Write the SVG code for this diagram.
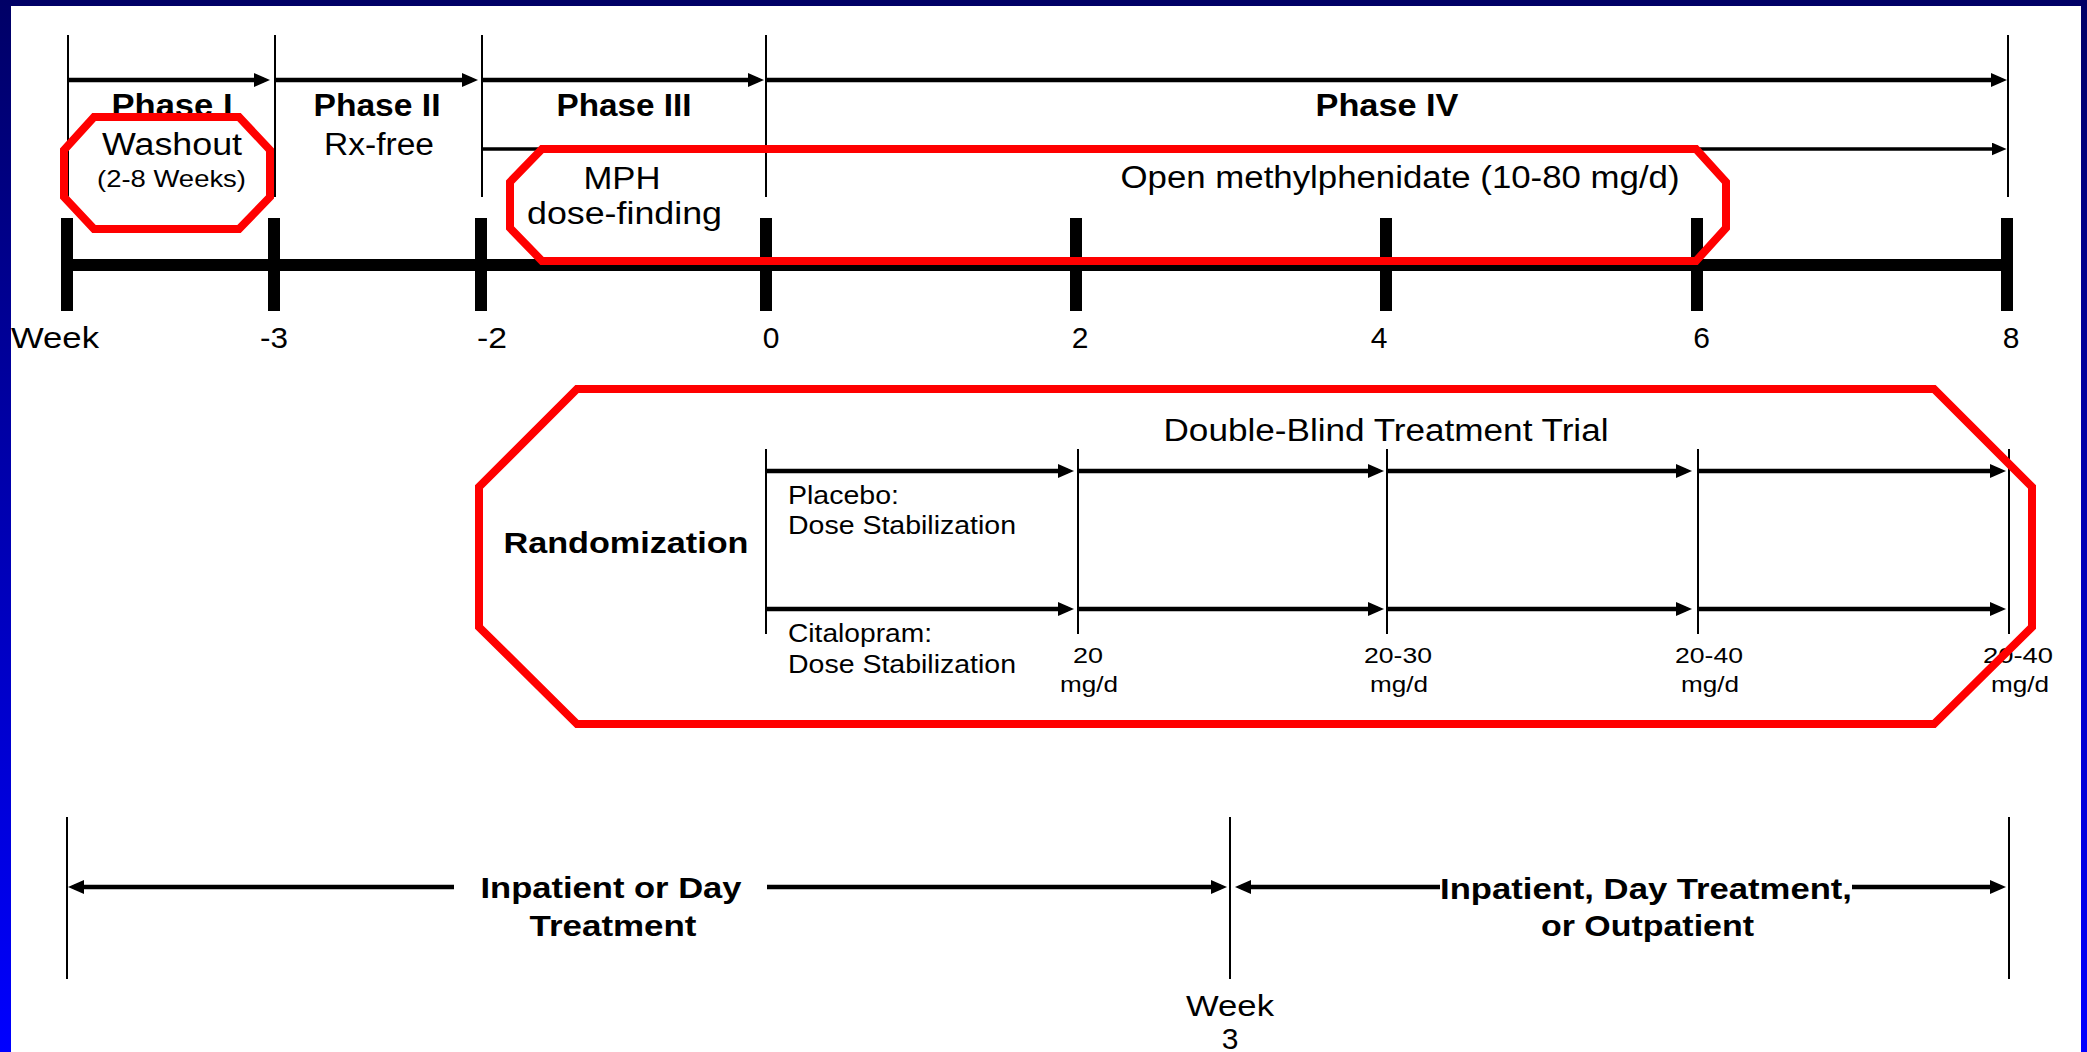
<svg xmlns="http://www.w3.org/2000/svg" width="2087" height="1052" viewBox="0 0 2087 1052">
<defs>
<linearGradient id="bg" x1="0" y1="0" x2="0" y2="1">
<stop offset="0" stop-color="#000066"/>
<stop offset="1" stop-color="#0000ff"/>
</linearGradient>
<marker id="ah" viewBox="0 0 16 14" refX="10" refY="7" markerWidth="16" markerHeight="14" markerUnits="userSpaceOnUse" orient="auto-start-reverse">
<path d="M0,0 L16,7 L0,14 z" fill="#000"/>
</marker>
<marker id="ahs" viewBox="0 0 16 14" refX="10" refY="7" markerWidth="15" markerHeight="13" markerUnits="userSpaceOnUse" orient="auto-start-reverse">
<path d="M0,0 L16,7 L0,14 z" fill="#000"/>
</marker>
</defs>
<style>
.t{font-family:"Liberation Sans",Arial,sans-serif;fill:#000}
.b{font-weight:bold}
.m{text-anchor:middle}
.thin{stroke:#000;stroke-width:2;fill:none}
.arr{stroke:#000;stroke-width:4.5;fill:none;marker-end:url(#ah)}
.arrs{stroke:#000;stroke-width:3.5;fill:none;marker-end:url(#ahs)}
.oct{fill:none;stroke:#ff0000;stroke-width:8;stroke-linejoin:miter}
</style>
<rect x="0" y="0" width="2087" height="1052" fill="url(#bg)"/>
<rect x="11" y="6" width="2070" height="1046" fill="#fff"/>

<g id="connectors">
<!-- top phase boundaries -->
<line class="thin" x1="68" y1="35" x2="68" y2="197"/>
<line class="thin" x1="275" y1="35" x2="275" y2="197"/>
<line class="thin" x1="482" y1="35" x2="482" y2="197"/>
<line class="thin" x1="766" y1="35" x2="766" y2="197"/>
<line class="thin" x1="2008" y1="35" x2="2008" y2="197"/>
<line class="arr" x1="68" y1="80" x2="264" y2="80"/>
<line class="arr" x1="275" y1="80" x2="472" y2="80"/>
<line class="arr" x1="482" y1="80" x2="758" y2="80"/>
<line class="arr" x1="766" y1="80" x2="2001" y2="80"/>
<line class="arrs" x1="482" y1="149" x2="2001" y2="149"/>
<!-- timeline axis -->
<line x1="67" y1="265" x2="2007" y2="265" stroke="#000" stroke-width="12"/>
<g fill="#000">
<rect x="61" y="218" width="12" height="93"/>
<rect x="268" y="218" width="12" height="93"/>
<rect x="475" y="218" width="12" height="93"/>
<rect x="760" y="218" width="12" height="93"/>
<rect x="1070" y="218" width="12" height="93"/>
<rect x="1380" y="218" width="12" height="93"/>
<rect x="1691" y="218" width="12" height="93"/>
<rect x="2001" y="218" width="12" height="93"/>
</g>
<!-- double blind arms -->
<line class="thin" x1="766" y1="449" x2="766" y2="634"/>
<line class="thin" x1="1078" y1="449" x2="1078" y2="634"/>
<line class="thin" x1="1387" y1="449" x2="1387" y2="634"/>
<line class="thin" x1="1698" y1="449" x2="1698" y2="634"/>
<line class="thin" x1="2009" y1="449" x2="2009" y2="634"/>
<line class="arr" x1="766" y1="471" x2="1068" y2="471"/>
<line class="arr" x1="1078" y1="471" x2="1378" y2="471"/>
<line class="arr" x1="1387" y1="471" x2="1686" y2="471"/>
<line class="arr" x1="1698" y1="471" x2="2000" y2="471"/>
<line class="arr" x1="766" y1="609" x2="1068" y2="609"/>
<line class="arr" x1="1078" y1="609" x2="1378" y2="609"/>
<line class="arr" x1="1387" y1="609" x2="1686" y2="609"/>
<line class="arr" x1="1698" y1="609" x2="2000" y2="609"/>
<!-- bottom treatment setting -->
<line class="thin" x1="67" y1="817" x2="67" y2="979"/>
<line class="thin" x1="1230" y1="817" x2="1230" y2="979"/>
<line class="thin" x1="2009" y1="817" x2="2009" y2="979"/>
<line class="arr" x1="454" y1="887" x2="74" y2="887"/>
<line class="arr" x1="767" y1="887" x2="1221" y2="887"/>
<line class="arr" x1="1440" y1="887" x2="1241" y2="887"/>
<line class="arr" x1="1852" y1="887" x2="2000" y2="887"/>
</g>

<g id="phase-labels">
<text class="t b m" x="172" y="116" font-size="31" textLength="121" lengthAdjust="spacingAndGlyphs">Phase I</text>
<text class="t b m" x="377" y="116" font-size="31" textLength="127" lengthAdjust="spacingAndGlyphs">Phase II</text>
<text class="t b m" x="624" y="116" font-size="31" textLength="135" lengthAdjust="spacingAndGlyphs">Phase III</text>
<text class="t b m" x="1387" y="116" font-size="31" textLength="143" lengthAdjust="spacingAndGlyphs">Phase IV</text>
</g>

<g id="node-rxfree">
<text class="t m" x="379" y="155" font-size="31" textLength="110" lengthAdjust="spacingAndGlyphs">Rx-free</text>
</g>

<g id="node-washout">
<text class="t m" x="172" y="155" font-size="31" textLength="140" lengthAdjust="spacingAndGlyphs">Washout</text>
<text class="t m" x="171.5" y="187" font-size="24" textLength="149" lengthAdjust="spacingAndGlyphs">(2-8 Weeks)</text>
<polygon class="oct" points="94,117 239,117 270,150 270,197 239,229 94,229 64,197 64,150"/>
</g>

<g id="node-mph">
<text class="t m" x="622" y="189" font-size="31" textLength="77" lengthAdjust="spacingAndGlyphs">MPH</text>
<text class="t m" x="624.5" y="224" font-size="31" textLength="195" lengthAdjust="spacingAndGlyphs">dose-finding</text>
<text class="t m" x="1400" y="188" font-size="31" textLength="559" lengthAdjust="spacingAndGlyphs">Open methylphenidate (10-80 mg/d)</text>
<polygon class="oct" points="542,149 1696,149 1726,182 1726,228 1696,261 542,261 510,228 510,182"/>
</g>

<g id="week-labels">
<text class="t" x="11" y="348" font-size="30" textLength="88" lengthAdjust="spacingAndGlyphs">Week</text>
<text class="t m" x="274" y="348" font-size="30" textLength="28" lengthAdjust="spacingAndGlyphs">-3</text>
<text class="t m" x="492" y="348" font-size="30" textLength="30" lengthAdjust="spacingAndGlyphs">-2</text>
<text class="t m" x="771" y="348" font-size="30">0</text>
<text class="t m" x="1080" y="348" font-size="30">2</text>
<text class="t m" x="1379" y="348" font-size="30">4</text>
<text class="t m" x="1701.5" y="348" font-size="30">6</text>
<text class="t m" x="2011" y="348" font-size="30">8</text>
</g>

<g id="node-double-blind">
<text class="t m" x="1386" y="441" font-size="31" textLength="445" lengthAdjust="spacingAndGlyphs">Double-Blind Treatment Trial</text>
<text class="t b m" x="626" y="553" font-size="30" textLength="245" lengthAdjust="spacingAndGlyphs">Randomization</text>
<text class="t" x="788" y="504" font-size="25" textLength="111" lengthAdjust="spacingAndGlyphs">Placebo:</text>
<text class="t" x="788" y="534" font-size="25" textLength="228" lengthAdjust="spacingAndGlyphs">Dose Stabilization</text>
<text class="t" x="788" y="642" font-size="25" textLength="144" lengthAdjust="spacingAndGlyphs">Citalopram:</text>
<text class="t" x="788" y="673" font-size="25" textLength="228" lengthAdjust="spacingAndGlyphs">Dose Stabilization</text>
<text class="t m" x="1088" y="663" font-size="22" textLength="30" lengthAdjust="spacingAndGlyphs">20</text>
<text class="t m" x="1089" y="692" font-size="22" textLength="58" lengthAdjust="spacingAndGlyphs">mg/d</text>
<text class="t m" x="1398" y="663" font-size="22" textLength="68" lengthAdjust="spacingAndGlyphs">20-30</text>
<text class="t m" x="1399" y="692" font-size="22" textLength="58" lengthAdjust="spacingAndGlyphs">mg/d</text>
<text class="t m" x="1709" y="663" font-size="22" textLength="68" lengthAdjust="spacingAndGlyphs">20-40</text>
<text class="t m" x="1710" y="692" font-size="22" textLength="58" lengthAdjust="spacingAndGlyphs">mg/d</text>
<text class="t m" x="2018" y="663" font-size="22" textLength="70" lengthAdjust="spacingAndGlyphs">20-40</text>
<text class="t m" x="2020" y="692" font-size="22" textLength="58" lengthAdjust="spacingAndGlyphs">mg/d</text>
<polygon class="oct" points="577,389 1934,389 2032,487 2032,627 1934,724 577,724 479,627 479,487"/>
</g>

<g id="node-inpatient">
<text class="t b m" x="611" y="898" font-size="30" textLength="261" lengthAdjust="spacingAndGlyphs">Inpatient or Day</text>
<text class="t b m" x="613" y="936" font-size="30" textLength="167" lengthAdjust="spacingAndGlyphs">Treatment</text>
</g>

<g id="node-outpatient">
<text class="t b m" x="1646" y="899" font-size="30" textLength="412" lengthAdjust="spacingAndGlyphs">Inpatient, Day Treatment,</text>
<text class="t b m" x="1647.5" y="936" font-size="30" textLength="213" lengthAdjust="spacingAndGlyphs">or Outpatient</text>
</g>

<g id="node-week3">
<text class="t m" x="1230" y="1016" font-size="30" textLength="88" lengthAdjust="spacingAndGlyphs">Week</text>
<text class="t m" x="1230" y="1049" font-size="30">3</text>
</g>
</svg>
